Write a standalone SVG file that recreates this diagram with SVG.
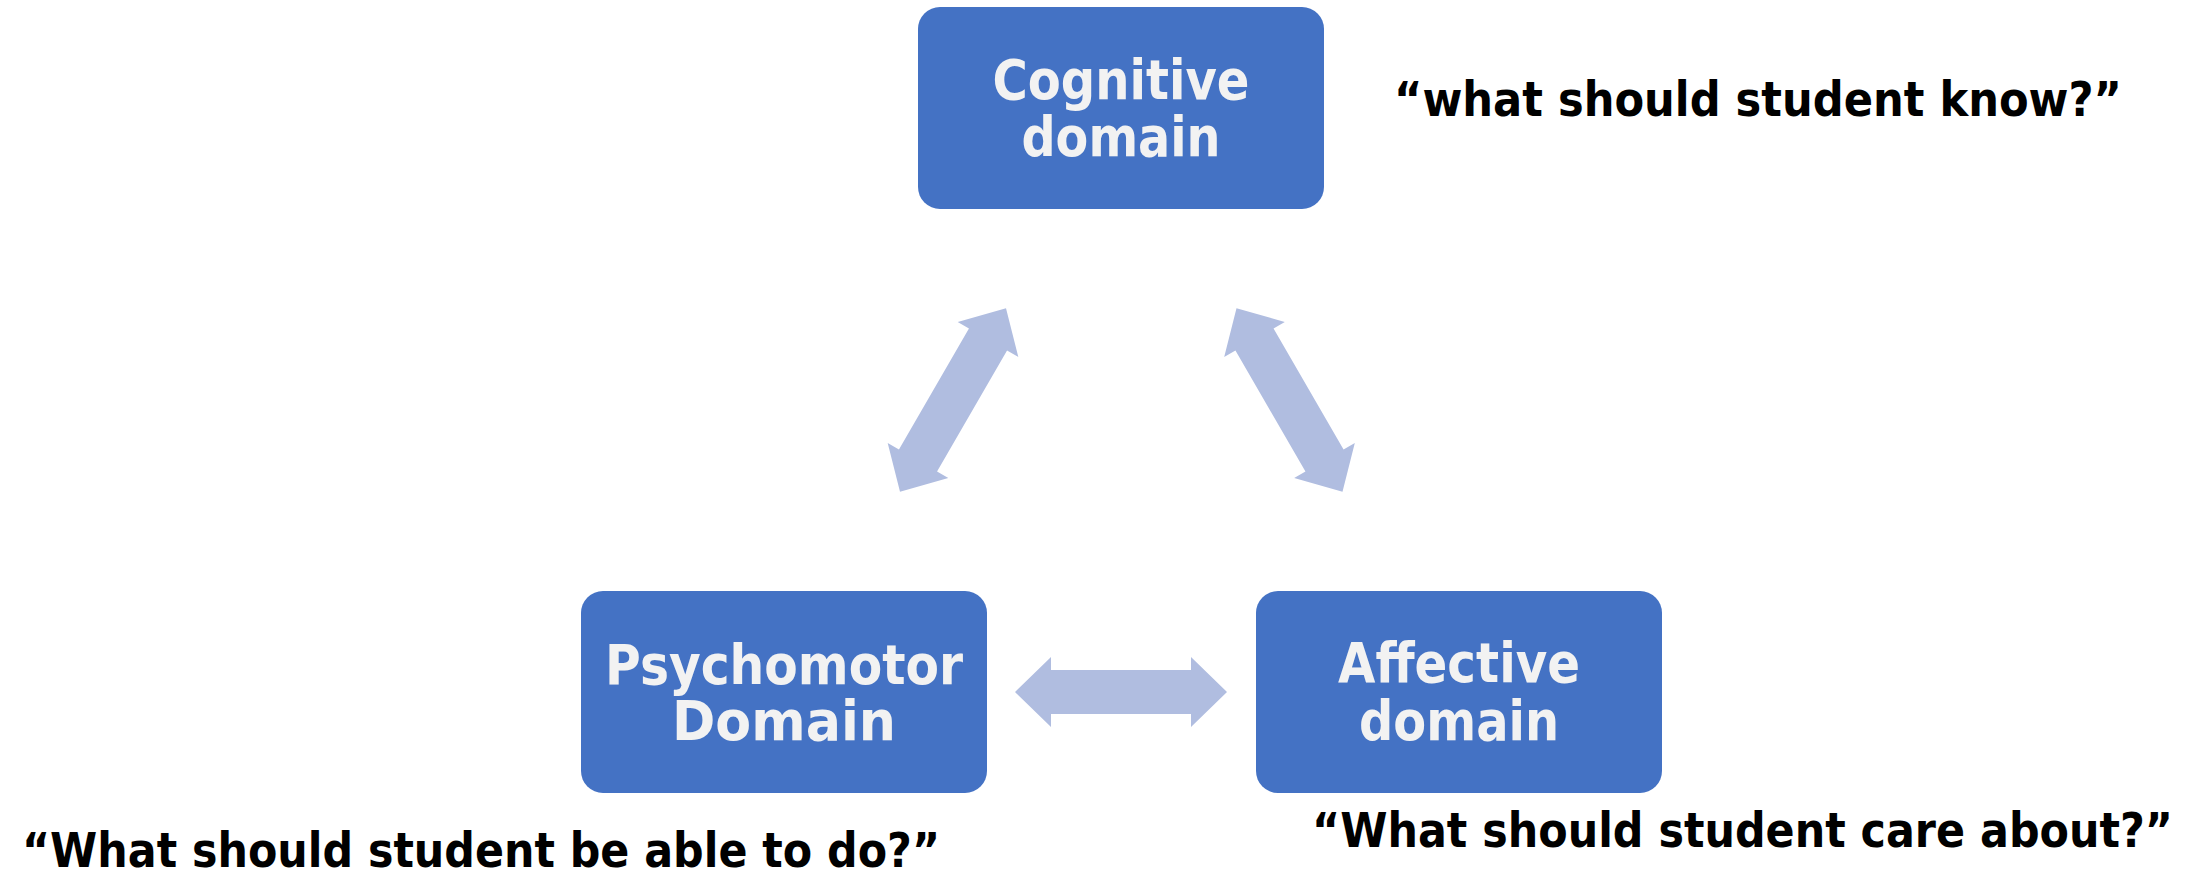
<svg xmlns="http://www.w3.org/2000/svg" width="2201" height="873" viewBox="0 0 2201 873">
  <style>
    .box { fill: #4472C4; }
    .label { font-family: "DejaVu Sans", "Liberation Sans", sans-serif; font-weight: bold; font-size: 56px; fill: #F2F2F2; text-anchor: middle; }
    .quote { font-family: "DejaVu Sans", "Liberation Sans", sans-serif; font-weight: bold; font-size: 48px; fill: #000000; }
    .arrow { fill: #B0BDE0; }
  </style>
  <defs>
    <!-- double-headed block arrow, centred on the origin, pointing along x -->
    <path id="dbl-arrow" d="M -106,0 L -70,-35 L -70,-22 L 70,-22 L 70,-35 L 106,0 L 70,35 L 70,22 L -70,22 L -70,35 Z"/>
  </defs>
  <rect width="2201" height="873" fill="#FFFFFF"/>

  <g id="connectors">
    <use href="#dbl-arrow" class="arrow" transform="translate(953,400) rotate(-60)"/>
    <use href="#dbl-arrow" class="arrow" transform="translate(1289.5,400) rotate(60)"/>
    <use href="#dbl-arrow" class="arrow" transform="translate(1121,692)"/>
  </g>

  <g id="cognitive">
    <rect class="box" x="918" y="7" width="406" height="202" rx="22"/>
    <text class="label" x="1121" y="99" textLength="257" lengthAdjust="spacingAndGlyphs">Cognitive</text>
    <text class="label" x="1121" y="156" textLength="199" lengthAdjust="spacingAndGlyphs">domain</text>
  </g>

  <g id="psychomotor">
    <rect class="box" x="581" y="591" width="406" height="202" rx="22"/>
    <text class="label" x="784" y="684" textLength="358" lengthAdjust="spacingAndGlyphs">Psychomotor</text>
    <text class="label" x="784" y="740" textLength="224" lengthAdjust="spacingAndGlyphs">Domain</text>
  </g>

  <g id="affective">
    <rect class="box" x="1256" y="591" width="406" height="202" rx="22"/>
    <text class="label" x="1459" y="682" textLength="242" lengthAdjust="spacingAndGlyphs">Affective</text>
    <text class="label" x="1459" y="740" textLength="200" lengthAdjust="spacingAndGlyphs">domain</text>
  </g>

  <g id="questions">
    <text class="quote" x="1394" y="116" textLength="728" lengthAdjust="spacingAndGlyphs">“what should student know?”</text>
    <text class="quote" x="22" y="867" textLength="918" lengthAdjust="spacingAndGlyphs">“What should student be able to do?”</text>
    <text class="quote" x="1312" y="847" textLength="861" lengthAdjust="spacingAndGlyphs">“What should student care about?”</text>
  </g>
</svg>
